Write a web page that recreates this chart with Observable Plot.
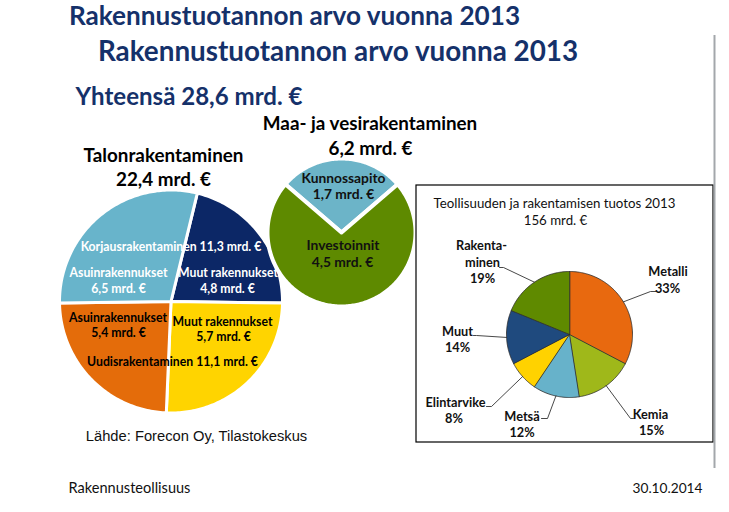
<!DOCTYPE html>
<html><head><meta charset="utf-8">
<script src="https://cdn.jsdelivr.net/npm/d3@7"></script>
<script src="https://cdn.jsdelivr.net/npm/@observablehq/plot@0.6"></script>
<style>body{margin:0;background:#fff} #chart svg{display:block}</style>
</head><body><div id="chart"></div>
<script>
// ---------- DATA ----------
const titleText = "Rakennustuotannon arvo vuonna 2013";
const totalAll = 28.6;
const talonTitle = "Talonrakentaminen";
const talonSegments = ["Korjausrakentaminen: Muut rakennukset", "Uudisrakentaminen: Muut rakennukset", "Uudisrakentaminen: Asuinrakennukset", "Korjausrakentaminen: Asuinrakennukset"];
const talonValues = [4.8, 5.7, 5.4, 6.5];
const maaTitle = "Maa- ja vesirakentaminen";
const maaSegments = ["Kunnossapito", "Investoinnit"];
const maaValues = [1.7, 4.5];
const teolTitle = "Teollisuuden ja rakentamisen tuotos 2013";
const teolTotal = 156;
const teolCategories = ["Metalli", "Kemia", "Metsä", "Elintarvike", "Muut", "Rakentaminen"];
const teolShares = [33, 15, 12, 8, 14, 19];
const sourceText = "Lähde: Forecon Oy, Tilastokeskus";
const footerLeft = "Rakennusteollisuus";
const footerDate = "30.10.2014";

// ---------- STYLE / LAYOUT ----------
const F = "Lato, 'Open Sans', sans-serif";
const navy = "#15316a";
const talonColors = ["#0c2766", "#ffd400", "#e46c0a", "#68b4cb"];
const maaColors = ["#6cb4c8", "#5e8a00"];
const teolColors = ["#e8690f", "#9fb81a", "#67b2ca", "#ffd200", "#1f4a7e", "#5f8a00"];

const ctx = document.createElement("canvas").getContext("2d");
function fit(text, weight, width, family = F) {
  ctx.font = `${weight} 100px ${family}`;
  return 100 * width / ctx.measureText(text).width;
}
const mrd = v => v.toFixed(1).replace(".", ",") + " mrd. €";
const deg = Math.PI / 180;

function pieRows(name, vals, colors, cx, cy, r, start) {
  const arcs = d3.pie().sort(null).value(d => d).startAngle(start).endAngle(start + 2 * Math.PI)(vals);
  const rows = [];
  arcs.forEach((a, i) => {
    const key = name + i;
    rows.push({key, x: cx, y: cy, col: colors[i]});
    const n = Math.max(2, Math.ceil((a.endAngle - a.startAngle) / deg));
    for (let k = 0; k <= n; k++) {
      const t = a.startAngle + (a.endAngle - a.startAngle) * k / n;
      rows.push({key, x: cx + r * Math.sin(t), y: cy - r * Math.cos(t), col: colors[i]});
    }
  });
  return {rows, arcs};
}

const sum = a => a.reduce((s, v) => s + v, 0);
const talonTotal = sum(talonValues);
const maaTotal = sum(maaValues);
const korjaus = talonValues[0] + talonValues[3];
const uudis = talonValues[1] + talonValues[2];

// left pie: korjaus half centred at 12 o'clock
const talonStart = (talonValues[3] - talonValues[0]) / 2 / talonTotal * 2 * Math.PI;
const talon = pieRows("t", talonValues, talonColors, 170.5, 301, 111.5, talonStart);
const maaStart = -maaValues[0] / maaTotal * Math.PI;
const maa = pieRows("m", maaValues, maaColors, 341, 232, 74, maaStart);
const teolC = {x: 569, y: 334, r: 63};
const teol = pieRows("i", teolShares, teolColors, teolC.x, teolC.y, teolC.r, 0);

// leader lines: start at slice mid-angle on rim, then elbow, then end (layout)
const leaderLayout = [
  [[650, 291], [656, 291]],
  [[630, 418], [633, 418]],
  [[547, 418], [541, 418]],
  [[491, 406], [486, 406]],
  [[476, 335], [473, 335]],
  [[503, 267], [499, 267]]
];
const leaders = [];
teol.arcs.forEach((a, i) => {
  const m = (a.startAngle + a.endAngle) / 2;
  const key = "L" + i;
  leaders.push({key, x: teolC.x + teolC.r * Math.sin(m), y: teolC.y - teolC.r * Math.cos(m)});
  leaderLayout[i].forEach(([x, y]) => leaders.push({key, x, y}));
});

// ---------- TEXTS ----------
const texts = [];
function T(text, cx, cy, size, weight, color, family = F) { texts.push({text, cx, cy, size, weight, color, family}); }

const sT1 = fit(titleText, "bold", 452);
T(titleText, 68 + 226, 16, sT1, "bold", navy);
const sT2 = fit(titleText, "bold", 481);
T(titleText, 97 + 240.5, 52, sT2, "bold", navy);
const yht = "Yhteensä " + mrd(totalAll);
T(yht, 75 + 113.5, 97, fit(yht, "bold", 227), "bold", navy);

const sSub = fit(maaTitle, "bold", 215);
T(maaTitle, 369.5, 123, sSub, "bold", "#000");
T(mrd(maaTotal), 370, 148, sSub, "bold", "#000");
T(talonTitle, 163, 155, fit(talonTitle, "bold", 160), "bold", "#000");
T(mrd(talonTotal), 163, 179, fit(talonTitle, "bold", 160), "bold", "#000");

const korTxt = "Korjausrakentaminen " + mrd(korjaus);
const sL = fit(korTxt, "bold", 181);
T(korTxt, 170.5, 247, sL, "bold", "#fff");
T("Asuinrakennukset", 118, 273, sL, "bold", "#fff");
T(mrd(talonValues[3]), 118, 289, sL, "bold", "#fff");
T("Muut rakennukset", 227.5, 273, sL, "bold", "#fff");
T(mrd(talonValues[0]), 227, 289, sL, "bold", "#fff");
T("Asuinrakennukset", 117.5, 318, sL, "bold", "#000");
T(mrd(talonValues[2]), 118, 333, sL, "bold", "#000");
T("Muut rakennukset", 222, 322, sL, "bold", "#000");
T(mrd(talonValues[1]), 223, 337, sL, "bold", "#000");
T("Uudisrakentaminen " + mrd(uudis), 172, 362, sL, "bold", "#000");

const sM = fit(maaSegments[0], "bold", 84);
T(maaSegments[0], 343, 178, sM, "bold", "#111");
T(mrd(maaValues[0]), 343, 194, sM, "bold", "#111");
T(maaSegments[1], 342.5, 245, sM, "bold", "#111");
T(mrd(maaValues[1]), 342, 262, sM, "bold", "#111");

const sB = fit(teolTitle, "normal", 242);
T(teolTitle, 554, 203, sB, "normal", "#111");
T(teolTotal + " mrd. €", 555, 220, sB, "normal", "#111");

const sP = fit("Elintarvike", "bold", 60);
const pct = v => v + "%";
T("Rakenta-", 481, 245, sP, "bold", "#111");
T("minen", 482, 262, sP, "bold", "#111");
T(pct(teolShares[5]), 482, 278, sP, "bold", "#111");
T(teolCategories[0], 667.5, 271, sP, "bold", "#111");
T(pct(teolShares[0]), 667, 288, sP, "bold", "#111");
T(teolCategories[4], 457, 331, sP, "bold", "#111");
T(pct(teolShares[4]), 457, 347, sP, "bold", "#111");
T(teolCategories[3], 455, 402, sP, "bold", "#111");
T(pct(teolShares[3]), 453.5, 418, sP, "bold", "#111");
T(teolCategories[2], 521.5, 416, sP, "bold", "#111");
T(pct(teolShares[2]), 521.5, 432, sP, "bold", "#111");
T(teolCategories[1], 650, 414, sP, "bold", "#111");
T(pct(teolShares[1]), 651, 430, sP, "bold", "#111");

const AR = "'Liberation Sans', Arial, sans-serif";
T(sourceText, 85 + 111, 436, fit(sourceText, "normal", 222, AR), "normal", "#111", AR);
T(footerLeft, 68 + 61, 488, fit(footerLeft, "normal", 122), "normal", "#111");
T(footerDate, 632 + 35, 488, fit(footerDate, "normal", 70), "normal", "#111");

const textMarks = texts.map(t => Plot.text([t], {
  x: "cx", y: "cy", text: "text", fontSize: t.size, fontWeight: t.weight,
  fill: t.color, fontFamily: t.family, textAnchor: "middle", lineAnchor: "middle"
}));

const chart = Plot.plot({
  width: 729, height: 512, margin: 0,
  x: {domain: [0, 729], range: [0, 729], axis: null},
  y: {domain: [0, 512], range: [0, 512], axis: null},
  color: {type: "identity"},
  style: {background: "#fff", fontFamily: F},
  marks: [
    Plot.line(talon.rows, {x: "x", y: "y", z: "key", fill: "col", stroke: "#fff", strokeWidth: 3, curve: "linear-closed"}),
    Plot.line(maa.rows, {x: "x", y: "y", z: "key", fill: "col", stroke: "#fff", strokeWidth: 4, curve: "linear-closed"}),
    Plot.rect([{x1: 416, x2: 713, y1: 185, y2: 442}], {x1: "x1", x2: "x2", y1: "y1", y2: "y2", fill: "#fff", stroke: "#000", strokeWidth: 1.2}),
    Plot.line(teol.rows, {x: "x", y: "y", z: "key", fill: "col", stroke: "#2b2b2b", strokeWidth: 0.8, curve: "linear-closed"}),
    Plot.line(leaders, {x: "x", y: "y", z: "key", stroke: "#333", strokeWidth: 0.9}),
    Plot.ruleX([714], {y1: 35, y2: 468, stroke: "#a3a7ab", strokeWidth: 2}),
    ...textMarks
  ]
});
document.getElementById("chart").append(chart);
</script>
</body></html>
